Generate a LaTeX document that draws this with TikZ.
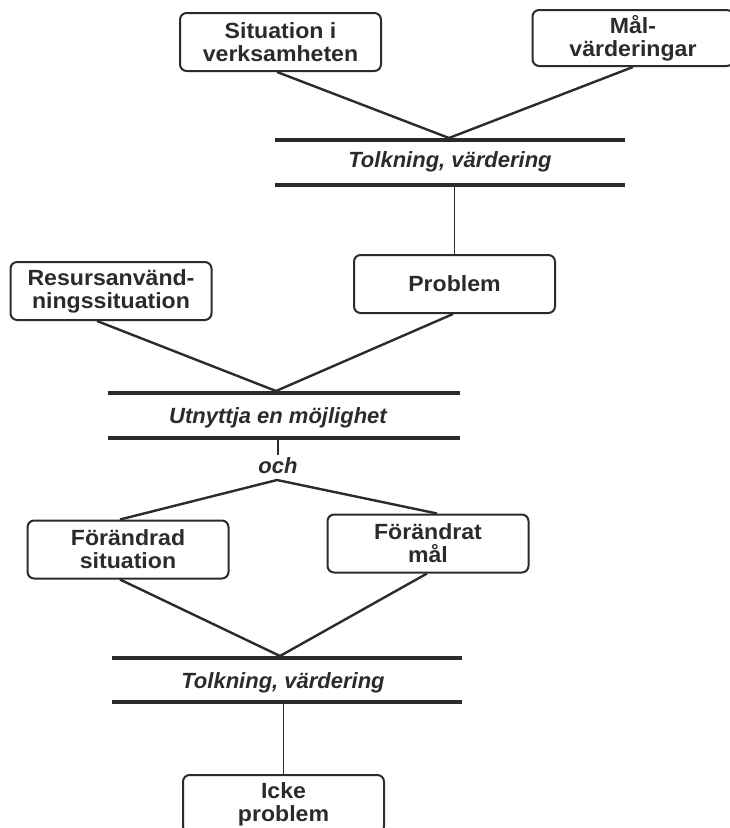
\documentclass[tikz,border=0pt]{standalone}
\usepackage{fontspec}
\setmainfont{Liberation Sans}[FakeStretch=1.05]
\newfontfamily\barfont{Liberation Sans}
\definecolor{ink}{gray}{0.17}
\begin{document}
\begin{tikzpicture}[x=0.75pt,y=-0.75pt,
  box/.style={draw=ink, line width=1.5pt, rounded corners=5pt,
    minimum width=150.75pt, minimum height=43.5pt, inner sep=0pt,
    align=center, text=ink, font=\fontsize{16.5}{17.2}\selectfont\bfseries},
  con/.style={draw=ink, line width=1.8pt},
  bar/.style={draw=ink, line width=3.3pt},
  lab/.style={inner sep=0pt, text=ink, font=\barfont\fontsize{16.5}{16.5}\selectfont\bfseries\itshape}]
\useasboundingbox (0,0) rectangle (730,828);
\clip (0,0) rectangle (730,828);

% boxes
\node[box] (sit)  at (280.5,42)  {Situation i\\verksamheten};
\node[box, minimum height=42pt] (mal)  at (633,38) {Mål-\\värderingar};
\node[box] (res)  at (111,291)   {Resursanvänd-\\ningssituation};
\node[box] (prob) at (454.5,284) {Problem};
\node[box] (fs)   at (128,549.5) {Förändrad\\situation};
\node[box] (fm)   at (428,543.5) {Förändrat\\mål};
\node[box] (icke) at (283.5,804) {Icke\\problem};

% bar labels
\node[lab] (t1) at (450,162) {Tolkning, värdering};
\node[lab] (t2) at (278,418) {Utnyttja en möjlighet};
\node[lab] (och) at (278,466) {och};
\node[lab] (t3) at (283,683) {Tolkning, värdering};

% bars
\draw[bar] (275,140) -- (625,140);
\draw[bar] (275,185) -- (625,185);
\draw[bar] (108,393) -- (460,393);
\draw[bar] (108,438) -- (460,438);
\draw[bar] (112,658) -- (462,658);
\draw[bar] (112,702) -- (462,702);

% junction coordinates
\coordinate (j1) at (449,138);
\coordinate (b2) at (454.5,186);
\coordinate (j2) at (276,391);
\coordinate (b4) at (278,439);
\coordinate (ochtop) at (278,455);
\coordinate (apex) at (277,480);
\coordinate (j3) at (280,656);
\coordinate (b6) at (283.5,703);

% connectors
\draw[con] ([xshift=-2.6pt]sit.south) -- (j1);
\draw[con] (mal.south) -- (j1);
\draw[con, line width=1.3pt] (b2) -- (prob.north);
\draw[con] ([xshift=-10.5pt]res.south) -- (j2);
\draw[con] ([xshift=-1.1pt]prob.south) -- (j2);
\draw[con, line width=1.3pt] (b4) -- (ochtop);
\draw[con] (apex) -- ([xshift=-6pt]fs.north);
\draw[con] (apex) -- ([xshift=6.75pt]fm.north);
\draw[con] ([xshift=-6pt]fs.south) -- (j3);
\draw[con] ([xshift=-0.75pt]fm.south) -- (j3);
\draw[con, line width=1.3pt] (b6) -- (icke.north);
\end{tikzpicture}
\end{document}
